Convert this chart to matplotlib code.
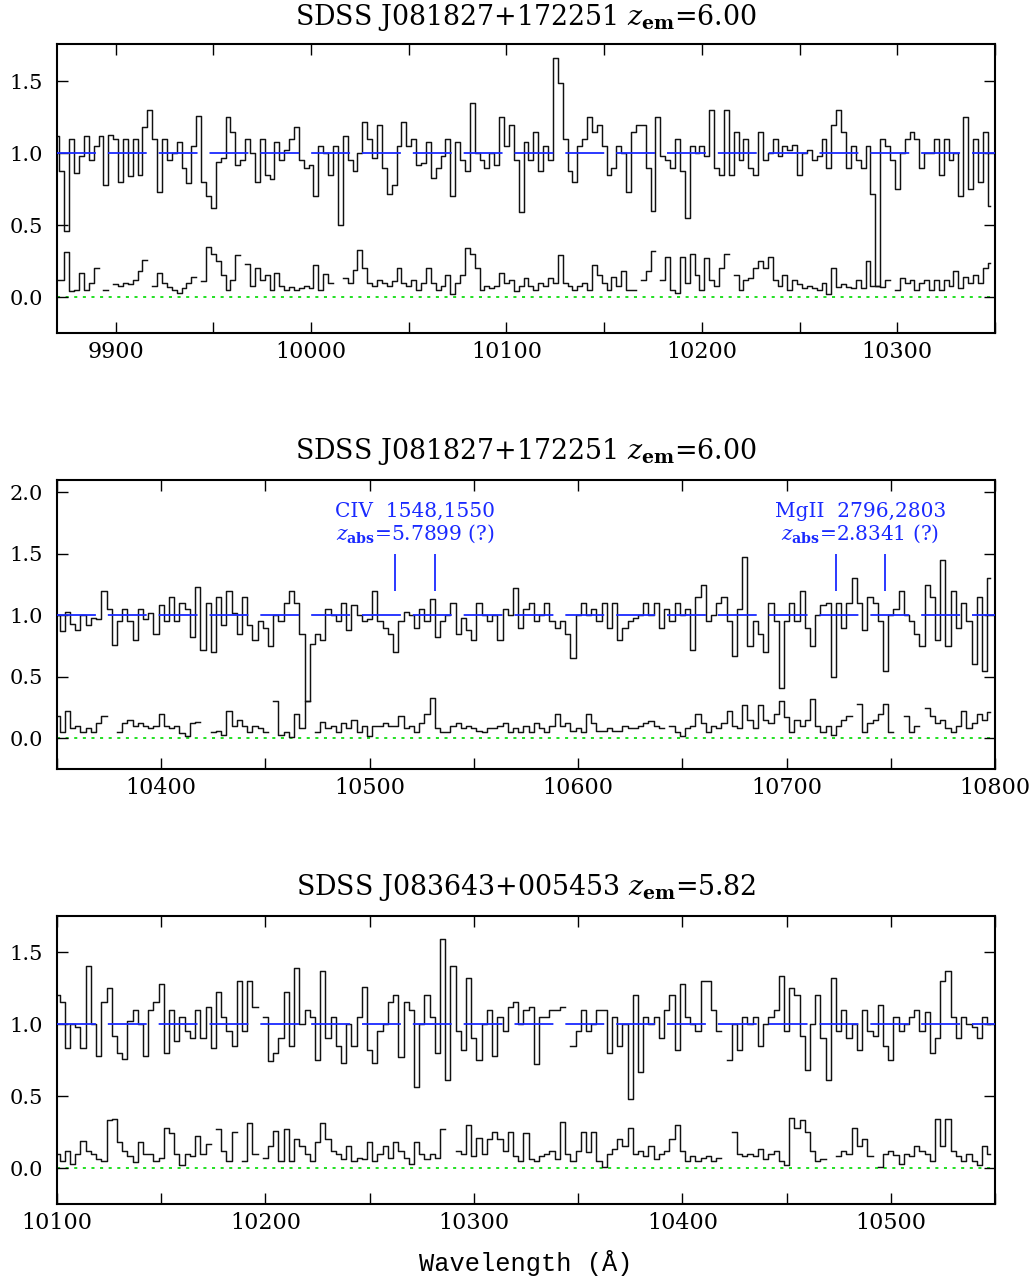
import numpy as np
import matplotlib
matplotlib.use("Agg")
import matplotlib.pyplot as plt
from matplotlib.ticker import MultipleLocator, FuncFormatter

nan = np.nan

# ---------------- data ----------------
titles = [r"SDSS J081827+172251 $z_{\mathbf{em}}$=6.00",
          r"SDSS J081827+172251 $z_{\mathbf{em}}$=6.00",
          r"SDSS J083643+005453 $z_{\mathbf{em}}$=5.82"]
xlims = [(9870, 10350), (10350, 10800), (10100, 10550)]
ylims = [(-0.25, 1.76), (-0.25, 2.1), (-0.25, 1.75)]
wave_start = [9870.0, 10350.0, 10100.0]
wave_step = 2.5

flux1 = [1.12, 0.88, 0.46, 1.10, 0.86, 0.98, 1.12, 0.95, 1.05, 1.12,
         0.78, 1.13, 1.10, 0.80, 1.10, 0.84, 1.10, 0.85, 1.18, 1.30,
         1.10, 0.73, 1.10, 0.95, 1.00, 1.08, 0.90, 0.79, 1.05, 1.26,
         0.80, 0.70, 0.62, 0.94, 0.97, 1.25, 1.15, 0.92, 0.95, 1.10,
         1.00, 0.80, 1.10, 0.85, 0.82, 1.08, 0.95, 1.02, 1.10, 1.18,
         0.95, 0.90, 0.92, 0.70, 1.05, 1.00, 0.85, 1.05, 0.50, 1.12,
         0.95, 0.88, 1.00, 1.22, 1.10, 0.97, 1.20, 0.90, 0.72, 0.78,
         1.05, 1.22, 1.05, 1.10, 0.92, 0.93, 1.08, 0.83, 0.90, 0.98,
         1.10, 0.70, 1.08, 0.95, 0.88, 1.35, 1.00, 0.95, 0.90, 1.00,
         0.92, 1.25, 1.05, 1.20, 0.95, 0.59, 1.08, 0.95, 1.15, 0.88,
         1.05, 0.95, 1.66, 1.49, 1.10, 0.88, 0.80, 1.05, 1.10, 1.25,
         1.15, 1.20, 1.05, 0.85, 0.90, 1.05, 1.00, 0.73, 1.15, 1.20,
         1.20, 0.90, 0.60, 1.25, 0.98, 0.95, 0.90, 1.10, 0.88, 0.55,
         1.05, 1.00, 1.05, 0.98, 1.30, 0.90, 0.85, 1.30, 0.85, 1.15,
         0.95, 1.10, 0.90, 0.85, 1.15, 0.95, 1.00, 1.10, 0.98, 1.05,
         1.02, 1.06, 0.85, 1.00, 1.02, 0.95, 0.98, 1.10, 0.90, 1.20,
         1.30, 1.15, 0.90, 1.05, 0.95, 0.90, 1.05, 0.72, 0.08, 1.10,
         1.05, 0.95, 0.75, 1.00, 1.10, 1.15, 1.10, 0.90, 1.00, 1.00,
         1.10, 0.85, 1.10, 0.95, 1.00, 0.70, 1.25, 0.75, 1.10, 0.80,
         1.15, 0.63]
err1 = [0.12, 0.12, 0.31, 0.04, 0.05, 0.17, 0.05, 0.10, 0.20, nan,
        0.05, nan, 0.09, 0.08, 0.10, 0.09, 0.12, 0.18, 0.26, nan,
        0.08, 0.17, 0.10, 0.07, 0.05, 0.03, 0.06, 0.10, 0.14, nan,
        0.11, 0.35, 0.30, 0.25, 0.15, 0.05, 0.12, 0.29, nan, 0.23,
        0.08, 0.20, 0.12, 0.15, 0.05, 0.17, 0.08, 0.05, 0.07, 0.05,
        0.06, 0.08, 0.06, 0.22, 0.05, 0.16, 0.10, nan, nan, 0.13,
        0.10, 0.19, 0.33, 0.20, 0.10, 0.08, 0.12, 0.10, 0.08, 0.11,
        0.20, 0.10, 0.08, 0.12, 0.05, 0.10, 0.20, 0.10, 0.05, 0.08,
        0.15, 0.02, 0.10, 0.15, 0.34, 0.30, 0.20, 0.05, 0.08, 0.06,
        0.08, 0.17, 0.10, 0.12, 0.04, 0.08, 0.13, 0.08, 0.05, 0.10,
        0.08, 0.13, 0.10, 0.29, 0.10, 0.08, 0.05, 0.08, 0.10, 0.05,
        0.22, 0.15, 0.10, 0.05, 0.14, 0.08, 0.18, 0.05, 0.05, nan,
        0.12, 0.18, 0.32, nan, 0.12, 0.28, 0.05, 0.03, 0.28, 0.10,
        0.30, 0.15, 0.05, 0.27, 0.12, 0.08, 0.20, 0.30, nan, 0.15,
        0.05, 0.12, 0.13, 0.20, 0.25, 0.20, 0.28, 0.12, 0.08, 0.15,
        0.05, 0.12, 0.09, 0.06, 0.08, 0.06, 0.05, 0.10, 0.02, 0.20,
        0.07, 0.09, 0.07, 0.06, 0.12, 0.06, 0.25, 0.08, 0.08, 0.07,
        0.12, nan, 0.05, 0.13, 0.10, 0.12, 0.05, 0.10, 0.12, 0.05,
        0.12, 0.05, 0.12, 0.08, 0.18, 0.06, 0.14, 0.10, 0.15, 0.10,
        0.20, 0.24]

flux2 = [1.00, 0.87, 1.03, 0.93, 0.88, 1.00, 0.92, 0.98, 0.97, 1.20,
         1.05, 0.76, 0.95, 1.05, 0.95, 0.80, 1.05, 0.97, 1.02, 0.85,
         1.08, 0.95, 1.15, 0.95, 1.10, 1.05, 0.82, 1.23, 0.72, 1.10,
         0.70, 1.15, 0.92, 1.20, 1.02, 0.85, 1.15, 0.92, 0.80, 0.95,
         0.90, 0.75, 1.00, 0.95, 1.10, 1.20, 1.10, 0.85, 0.30, 0.77,
         0.85, 0.80, 1.05, 1.00, 0.95, 1.10, 0.88, 1.08, 1.00, 0.95,
         0.97, 1.20, 0.95, 0.90, 0.85, 0.70, 0.95, 1.03, 1.00, 0.90,
         1.05, 0.95, 1.13, 0.82, 0.95, 1.00, 1.10, 0.85, 0.98, 0.88,
         0.80, 1.10, 1.00, 0.95, 1.00, 0.80, 1.05, 1.00, 1.22, 0.90,
         1.05, 1.10, 0.95, 1.00, 1.10, 0.95, 0.90, 0.95, 0.85, 0.65,
         1.00, 1.10, 1.00, 1.05, 0.95, 1.10, 0.90, 1.10, 0.80, 0.90,
         0.95, 0.98, 1.00, 1.10, 1.00, 1.10, 0.90, 1.05, 0.95, 1.10,
         1.00, 1.05, 0.72, 1.15, 1.25, 0.95, 1.00, 1.10, 1.15, 0.95,
         0.67, 1.05, 1.47, 0.75, 0.95, 0.85, 0.70, 1.10, 0.95, 0.41,
         0.95, 1.10, 0.95, 1.20, 0.90, 0.75, 1.00, 1.08, 1.10, 0.50,
         1.10, 0.90, 1.10, 1.30, 1.10, 0.88, 1.15, 1.10, 0.95, 0.55,
         1.00, 1.05, 1.20, 1.00, 0.95, 0.85, 0.75, 1.25, 1.15, 0.80,
         1.45, 0.75, 1.20, 0.90, 1.10, 0.95, 0.60, 1.15, 0.55, 1.30]
err2 = [0.18, 0.05, 0.22, 0.08, 0.10, 0.05, 0.08, 0.05, 0.12, 0.18,
        nan, nan, 0.05, 0.12, 0.15, 0.10, 0.12, 0.10, 0.08, 0.10,
        0.20, 0.10, 0.08, 0.10, 0.04, 0.02, 0.12, 0.13, nan, nan,
        0.05, 0.06, 0.03, 0.22, 0.10, 0.15, 0.10, 0.05, 0.10, 0.08,
        0.05, nan, 0.30, 0.03, 0.05, 0.01, 0.20, 0.08, 0.30, nan,
        0.05, 0.13, 0.08, 0.10, 0.05, 0.12, 0.08, 0.15, 0.05, 0.10,
        0.02, 0.10, 0.10, 0.12, 0.10, 0.10, 0.18, 0.08, 0.10, 0.05,
        0.12, 0.20, 0.33, 0.08, 0.05, 0.05, 0.10, 0.12, 0.08, 0.10,
        0.08, 0.06, 0.05, 0.08, 0.08, 0.10, 0.12, 0.05, 0.08, 0.05,
        0.10, 0.05, 0.12, 0.08, 0.05, 0.10, 0.20, 0.10, 0.12, 0.06,
        0.08, 0.05, 0.20, 0.12, 0.06, 0.06, 0.08, 0.06, 0.06, 0.10,
        0.08, 0.08, 0.10, 0.12, 0.14, 0.10, 0.08, nan, 0.10, 0.05,
        0.02, 0.08, 0.10, 0.20, 0.12, 0.05, 0.10, 0.08, 0.12, 0.22,
        0.10, 0.08, 0.27, 0.15, 0.08, 0.27, 0.15, 0.12, 0.20, 0.30,
        0.17, 0.05, 0.15, 0.10, 0.15, 0.32, 0.10, 0.05, 0.10, 0.03,
        0.10, 0.15, 0.18, nan, 0.28, 0.05, 0.12, 0.15, 0.20, 0.28,
        0.05, nan, nan, 0.18, 0.05, 0.10, nan, 0.25, 0.18, 0.12,
        0.15, 0.08, 0.05, 0.10, 0.22, 0.08, 0.12, 0.20, 0.15, 0.21]

flux3 = [1.20, 1.15, 0.83, 1.00, 0.98, 0.83, 1.40, 1.00, 0.78, 1.15,
         1.25, 0.92, 0.80, 0.76, 1.02, 1.10, 1.00, 0.78, 1.10, 1.15,
         1.28, 0.80, 1.10, 0.88, 1.05, 0.95, 0.90, 1.10, 0.90, 1.12,
         0.83, 1.22, 1.05, 0.95, 0.85, 1.30, 0.95, 1.30, 1.12, nan,
         1.05, 0.74, 0.80, 0.90, 1.22, 0.85, 1.39, 1.00, 1.10, 1.05,
         0.75, 1.37, 0.90, 1.05, 0.85, 0.73, 1.00, 0.85, 1.05, 1.26,
         0.82, 0.73, 0.95, 1.00, 1.15, 1.20, 0.77, 1.15, 1.10, 0.56,
         1.00, 1.20, 1.05, 0.80, 1.59, 0.61, 1.40, 0.95, 0.82, 1.32,
         0.90, 0.75, 1.00, 1.10, 0.78, 1.05, 0.95, 1.12, 1.15, 1.00,
         1.10, 1.12, 0.72, 1.05, 1.05, 1.10, 1.10, 1.12, nan, 0.85,
         0.95, 1.10, 0.95, 1.00, 1.10, 1.10, 0.80, 1.05, 0.85, 1.00,
         0.48, 1.20, 0.67, 1.05, 1.00, 1.05, 0.90, 1.10, 1.20, 0.82,
         1.28, 1.05, 1.00, 0.95, 1.30, 1.30, 1.10, 0.95, nan, 0.75,
         1.00, 0.82, 1.05, 1.00, 1.05, 0.85, 1.00, 1.05, 1.10, 1.33,
         0.95, 1.25, 1.20, 0.92, 0.68, 1.00, 1.20, 0.90, 0.61, 1.32,
         0.95, 1.10, 0.90, 1.00, 0.82, 1.10, 0.95, 0.92, 1.13, 0.85,
         0.75, 1.05, 0.95, 1.00, 1.05, 1.10, 0.95, 1.08, 0.80, 0.90,
         1.30, 1.37, 1.05, 0.90, 1.05, 1.00, 0.98, 0.90, 1.05, 1.00]
err3 = [0.10, 0.05, 0.12, 0.03, 0.10, 0.19, 0.12, 0.10, 0.06, 0.05,
        0.33, 0.34, 0.18, 0.12, 0.08, 0.04, 0.18, 0.10, 0.10, 0.05,
        0.07, 0.28, 0.24, 0.10, 0.02, 0.10, 0.08, 0.22, 0.10, 0.17,
        nan, 0.27, 0.12, 0.05, 0.25, nan, 0.05, 0.31, 0.10, nan,
        0.07, 0.15, 0.26, 0.05, 0.27, 0.05, 0.20, 0.15, 0.10, 0.05,
        0.18, 0.31, 0.20, 0.12, 0.10, 0.06, 0.15, 0.05, 0.07, 0.06,
        0.18, 0.05, 0.10, 0.15, 0.07, 0.18, 0.12, 0.07, 0.03, 0.18,
        0.10, 0.06, 0.10, 0.07, 0.27, nan, nan, 0.12, 0.10, 0.30,
        0.08, 0.21, 0.10, 0.20, 0.25, 0.20, 0.12, 0.25, 0.08, 0.05,
        0.24, 0.06, 0.05, 0.08, 0.10, 0.12, 0.06, 0.32, 0.10, 0.05,
        0.12, 0.25, 0.11, 0.25, 0.05, 0.01, 0.10, 0.13, 0.20, 0.15,
        0.28, 0.10, 0.12, 0.08, 0.15, 0.06, 0.10, 0.12, 0.20, 0.30,
        0.12, 0.05, 0.08, 0.05, 0.07, 0.08, 0.05, 0.07, nan, nan,
        0.25, 0.10, 0.08, 0.10, 0.08, 0.13, 0.06, 0.10, 0.12, 0.05,
        0.02, 0.35, 0.28, 0.33, 0.25, 0.12, 0.05, 0.06, nan, nan,
        0.08, 0.12, 0.10, 0.28, 0.15, 0.20, 0.08, nan, 0.01, 0.10,
        0.12, 0.09, 0.03, 0.10, 0.08, 0.15, 0.12, 0.10, 0.05, 0.34,
        0.15, 0.34, 0.12, 0.08, 0.05, 0.10, 0.05, 0.02, 0.15, 0.10]

fluxes = [flux1, flux2, flux3]
errors = [err1, err2, err3]
continuum_level = 1.0

# absorber identifications in panel 2 (observed wavelengths of the marks)
civ_marks = [10512.2, 10531.4]
mgii_marks = [10723.6, 10747.0]
civ_label = ["CIV  1548,1550", r"$z_{\mathbf{abs}}$=5.7899 (?)"]
mgii_label = ["MgII  2796,2803", r"$z_{\mathbf{abs}}$=2.8341 (?)"]

# ---------------- style ----------------
plt.rcParams['font.family'] = ['DejaVu Serif']
plt.rcParams['mathtext.fontset'] = 'dejavuserif'
plt.rcParams['lines.scale_dashes'] = False

W, H = 1036, 1278
fig = plt.figure(figsize=(W / 100, H / 100), dpi=100)

ax_px = [(44, 333), (480, 769), (916, 1204)]
title_base = [25, 459, 895]
left_px, right_px = 57, 995

blue = '#1a2aff'
green = '#22e022'

def lab(v, pos):
    return "%d" % v if abs(v % 100) < 1e-6 else ""

axes = []
for k in range(3):
    top, bot = ax_px[k]
    ax = fig.add_axes([left_px / W, 1 - bot / H, (right_px - left_px) / W, (bot - top) / H])
    axes.append(ax)
    f = np.array(fluxes[k], dtype=float)
    e = np.array(errors[k], dtype=float)
    wf = wave_start[k] + wave_step * np.arange(len(f))
    we = wave_start[k] + wave_step * np.arange(len(e))
    ax.axhline(continuum_level, color=blue, lw=1.3, ls=(0, (28, 8.6)), zorder=3)
    ax.axhline(0.0, color=green, lw=1.4, ls=(0, (2.2, 4.0)), zorder=1)
    ax.step(wf, f, where='mid', color='#111111', lw=1.05, zorder=2)
    ax.step(we, e, where='mid', color='#111111', lw=1.05, zorder=2)
    ax.set_xlim(*xlims[k])
    ax.set_ylim(*ylims[k])
    ax.xaxis.set_major_locator(MultipleLocator(50))
    ax.xaxis.set_major_formatter(FuncFormatter(lab))
    ax.yaxis.set_major_locator(MultipleLocator(0.5))
    ax.yaxis.set_major_formatter(FuncFormatter(lambda v, p: "%.1f" % v))
    ax.tick_params(axis='both', direction='in', length=8, width=1.0,
                   top=True, right=True)
    ax.tick_params(axis='x', labelsize=16, pad=6)
    ax.tick_params(axis='y', labelsize=15, pad=10)
    for s in ax.spines.values():
        s.set_linewidth(1.5)
    fig.text(0.5 * (left_px + right_px) / W, 1 - title_base[k] / H, titles[k],
             ha='center', va='baseline', fontsize=19.4)

ax2 = axes[1]
for marks, labels in [(civ_marks, civ_label), (mgii_marks, mgii_label)]:
    xc = np.mean(marks)
    ax2.vlines(marks, 1.2, 1.5, color=blue, lw=1.3)
    ax2.text(xc, 1.80, labels[0], color=blue, ha='center', va='baseline', fontsize=14.5)
    ax2.text(xc, 1.612, labels[1], color=blue, ha='center', va='baseline', fontsize=14.5)

fig.text(0.5 * (left_px + right_px) / W, 1 - 1271 / H, "Wavelength (Å)",
         ha='center', va='baseline', fontsize=18.3,
         family=['Liberation Mono', 'DejaVu Sans Mono'])

fig.savefig("out.png", dpi=100)
